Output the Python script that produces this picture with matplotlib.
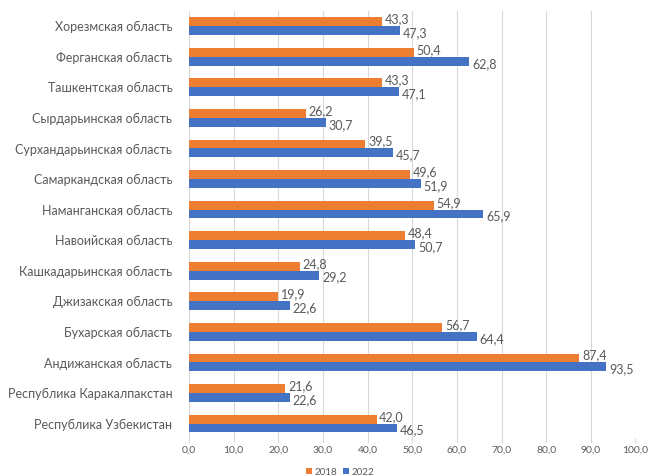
import matplotlib.pyplot as plt
import numpy as np

plt.rcParams['font.family'] = ['Lato', 'DejaVu Sans']

# categories listed bottom to top
regions = ['Республика Узбекистан', 'Республика Каракалпакстан', 'Андижанская область',
           'Бухарская область', 'Джизакская область', 'Кашкадарьинская область',
           'Навоийская область', 'Наманганская область', 'Самаркандская область',
           'Сурхандарьинская область', 'Сырдарьинская область', 'Ташкентская область',
           'Ферганская область', 'Хорезмская область']
vals_2018 = [42.0, 21.6, 87.4, 56.7, 19.9, 24.8, 48.4, 54.9, 49.6, 39.5, 26.2, 43.3, 50.4, 43.3]
vals_2022 = [46.5, 22.6, 93.5, 64.4, 22.6, 29.2, 50.7, 65.9, 51.9, 45.7, 30.7, 47.1, 62.8, 47.3]
xticks = np.arange(0, 101, 10)

orange = '#ED7D31'
blue = '#4472C4'
txt = '#595959'

fig = plt.figure(figsize=(6.48, 4.76), dpi=100)
ax = fig.add_axes([0.2917, 0.078, 0.689, 0.899])

y = np.arange(len(regions))
h = 0.29
b1 = ax.barh(y + h / 2, vals_2018, height=h, color=orange, label='2018', zorder=3)
b2 = ax.barh(y - h / 2, vals_2022, height=h, color=blue, label='2022', zorder=3)

def fmt(v):
    return f'{v:.1f}'.replace('.', ',')

for yy, v in zip(y, vals_2018):
    ax.text(v + 0.6, yy + h / 2 + 0.08, fmt(v), va='center', ha='left', fontsize=9, color=txt)
for yy, v in zip(y, vals_2022):
    ax.text(v + 0.6, yy - h / 2 - 0.08, fmt(v), va='center', ha='left', fontsize=9, color=txt)

ax.set_xlim(0, 100)
ax.set_ylim(-0.5, len(regions) - 0.5)
ax.set_xticks(xticks)
ax.set_xticklabels([fmt(t) for t in xticks], fontsize=7.5, color=txt)
ax.set_yticks(y)
ax.set_yticklabels(regions, fontsize=9, color=txt)
ax.tick_params(axis='y', length=0, pad=12)
ax.tick_params(axis='x', length=0, pad=5)
ax.grid(axis='x', color='#D9D9D9', linewidth=0.8, zorder=0)
for s in ax.spines.values():
    s.set_visible(False)

# small tick marks extending below the plot area
for t in xticks:
    ax.plot([t, t], [-0.5, -0.6], color='#D9D9D9', linewidth=0.8, clip_on=False, zorder=0)

leg = fig.legend(handles=[b1, b2], loc='lower center', bbox_to_anchor=(0.525, -0.02), ncol=2,
                 frameon=False, fontsize=7, handlelength=0.6, handleheight=0.6,
                 handletextpad=0.3, columnspacing=0.6)
for t in leg.get_texts():
    t.set_color(txt)

fig.savefig('out.png', dpi=100)
